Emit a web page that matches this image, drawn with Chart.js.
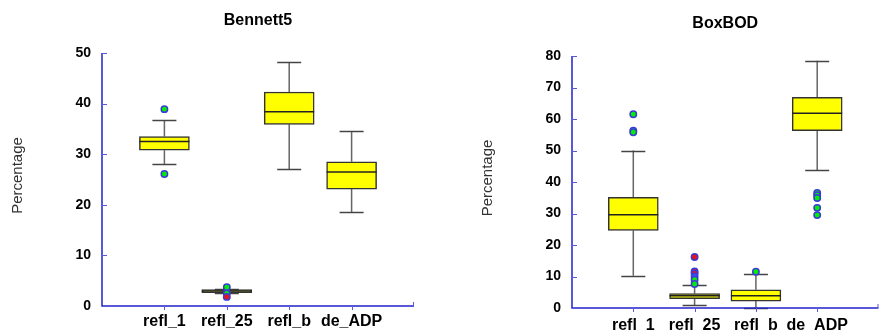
<!DOCTYPE html>
<html>
<head>
<meta charset="utf-8">
<script src="https://cdn.jsdelivr.net/npm/chart.js@4/dist/chart.umd.min.js"></script>
<style>
  html, body { margin: 0; padding: 0; background: #fff; width: 880px; height: 330px; overflow: hidden; position: relative; }
  .panel { position: absolute; top: 0; height: 330px; }
  #p1 { left: 0; width: 440px; }
  #p2 { left: 440px; width: 444px; }
</style>
</head>
<body>
<div class="panel" id="p1"><canvas id="c1" width="440" height="330"></canvas></div>
<div class="panel" id="p2"><canvas id="c2" width="444" height="330"></canvas></div>
<script>
// Method names along the x axis
const categories = ['refl_1', 'refl_25', 'refl_b', 'de_ADP'];

// Bennett5: five-number summaries per method
const benMin = [28.0, 2.6, 27.0, 18.6];
const benQ1  = [30.8, 2.65, 35.9, 23.1];
const benMed = [32.5, 2.95, 38.4, 26.5];
const benQ3  = [33.5, 3.25, 42.3, 28.5];
const benMax = [36.7, 3.3, 48.2, 34.5];
const benOutliers = [[38.9, 26.1], [3.7, 2.5, 1.8], [], []];
const benOutlierKind = [['g', 'g'], ['g', 'g', 'r'], [], []];
const benTicks = [0, 10, 20, 30, 40, 50];

// BoxBOD: five-number summaries per method
const boxMin = [10.25, 0.95, 0.0, 43.75];
const boxQ1  = [24.6, 2.95, 2.2, 56.3];
const boxMed = [29.6, 3.9, 3.9, 61.8];
const boxQ3  = [35.1, 4.6, 5.8, 66.9];
const boxMax = [50.0, 7.2, 10.9, 78.5];
const boxOutliers = [[61.5, 56.3, 55.8], [16.2, 11.6, 11.0, 10.0, 9.0, 7.6], [11.5], [36.5, 35.8, 34.9, 31.8, 29.5]];
const boxOutlierKind = [['g', 'g', 'g'], ['r', 'r', 'r', 'b', 'g', 'g'], ['g'], ['g', 'g', 'g', 'g', 'g']];
const boxTicks = [0, 10, 20, 30, 40, 50, 60, 70, 80];

const FONT = '"Liberation Sans", Arial, sans-serif';
const AXIS_BLUE = '#2222cc';
const TICK_BLUE = '#5a5ae0';
const fillFor = { g: '#00ee00', r: '#ee1111', b: '#3355ff' };

// Draws whiskers, medians, axis tick marks and the text around each panel
const boxDecor = {
  id: 'boxDecor',
  beforeDatasetsDraw(chart, args, o) {
    const { ctx } = chart;
    const x = chart.scales.x, y = chart.scales.y;
    ctx.save();
    ctx.lineWidth = 1.5;
    ctx.strokeStyle = '#666';
    o.min.forEach((v, i) => {
      const px = x.getPixelForValue(i + 1);
      ctx.beginPath();
      ctx.moveTo(px, y.getPixelForValue(o.max[i]));
      ctx.lineTo(px, y.getPixelForValue(o.q3[i]));
      ctx.moveTo(px, y.getPixelForValue(o.q1[i]));
      ctx.lineTo(px, y.getPixelForValue(v));
      ctx.stroke();
    });
    ctx.strokeStyle = '#444';
    o.min.forEach((v, i) => {
      const px = x.getPixelForValue(i + 1);
      [v, o.max[i]].forEach(w => {
        const py = Math.round(y.getPixelForValue(w)) + 0.5;
        ctx.beginPath();
        ctx.moveTo(px - 12, py);
        ctx.lineTo(px + 12, py);
        ctx.stroke();
      });
    });
    ctx.restore();
  },
  afterDatasetDraw(chart, args, o) {
    if (args.index !== 0) return;
    const { ctx } = chart;
    const x = chart.scales.x, y = chart.scales.y;
    ctx.save();
    ctx.lineWidth = 1.5;
    ctx.strokeStyle = '#222';
    o.med.forEach((v, i) => {
      const px = x.getPixelForValue(i + 1);
      const py = y.getPixelForValue(v);
      ctx.beginPath();
      ctx.moveTo(px - 25, py);
      ctx.lineTo(px + 25, py);
      ctx.stroke();
    });
    ctx.restore();
  },
  afterDraw(chart, args, o) {
    const { ctx, chartArea: a } = chart;
    const x = chart.scales.x, y = chart.scales.y;
    ctx.save();
    // axis lines
    ctx.strokeStyle = AXIS_BLUE;
    ctx.lineWidth = 1.5;
    ctx.beginPath();
    ctx.moveTo(a.left, a.top);
    ctx.lineTo(a.left, a.bottom);
    ctx.lineTo(a.right, a.bottom);
    ctx.stroke();
    // tick marks
    ctx.strokeStyle = TICK_BLUE;
    ctx.lineWidth = 1;
    ctx.beginPath();
    y.ticks.forEach(t => {
      const py = Math.round(y.getPixelForValue(t.value)) + 0.5;
      ctx.moveTo(a.left, py);
      ctx.lineTo(a.left + 5, py);
    });
    categories.forEach((c, i) => {
      const px = Math.round(x.getPixelForValue(i + 1)) + 0.5;
      ctx.moveTo(px, a.bottom);
      ctx.lineTo(px, a.bottom + 4);
    });
    ctx.moveTo(a.right - 0.5, a.bottom);
    ctx.lineTo(a.right - 0.5, a.bottom - 4);
    ctx.stroke();
    // panel title
    ctx.fillStyle = '#000';
    ctx.font = 'bold 16px ' + FONT;
    ctx.textAlign = 'center';
    ctx.textBaseline = 'middle';
    ctx.fillText(o.title, (a.left + a.right) / 2, a.top - 32);
    // value axis title
    ctx.font = '15px ' + FONT;
    ctx.fillStyle = '#333';
    ctx.translate(a.left - 84, (a.top + a.bottom) / 2 - 4);
    ctx.rotate(-Math.PI / 2);
    ctx.fillText('Percentage', 0, 0);
    ctx.restore();
  }
};

function makeChart(id, title, mins, q1, med, q3, maxs, outs, kinds, ticks, layout) {
  const labels = [''].concat(categories, ['']);
  const boxes = [null].concat(categories.map((c, i) => [q1[i], q3[i]]), [null]);
  const pts = [], ptFill = [];
  outs.forEach((list, i) => list.forEach((v, k) => {
    pts.push({ x: categories[i], y: v });
    ptFill.push(fillFor[kinds[i][k]]);
  }));
  return new Chart(document.getElementById(id), {
    type: 'bar',
    data: {
      labels: labels,
      datasets: [
        {
          type: 'bar',
          data: boxes,
          backgroundColor: '#ffff00',
          borderColor: '#333',
          borderWidth: 1.5,
          borderSkipped: false,
          barThickness: 50,
          order: 2
        },
        {
          type: 'line',
          data: pts,
          showLine: false,
          pointStyle: 'circle',
          pointRadius: 3.2,
          pointBorderWidth: 1.5,
          pointBorderColor: '#3a3ad8',
          pointBackgroundColor: ptFill,
          order: 1
        }
      ]
    },
    options: {
      responsive: false,
      devicePixelRatio: 1,
      animation: false,
      events: [],
      layout: { padding: { left: 0, top: layout.top, right: layout.right, bottom: 0 } },
      plugins: {
        legend: { display: false },
        tooltip: { enabled: false },
        title: { display: false },
        boxDecor: { title: title, min: mins, q1: q1, med: med, q3: q3, max: maxs }
      },
      scales: {
        x: {
          type: 'category',
          offset: false,
          grid: { display: false },
          border: { display: false },
          ticks: {
            autoSkip: false,
            maxRotation: 0,
            padding: layout.xpad,
            color: '#000',
            font: { family: FONT, size: 16, weight: 'bold' }
          },
          afterFit(s) { s.height = layout.xh; }
        },
        y: {
          min: ticks[0],
          max: ticks[ticks.length - 1],
          grid: { display: false },
          border: { display: false },
          afterBuildTicks(s) { s.ticks = ticks.map(v => ({ value: v })); },
          ticks: {
            padding: 3,
            color: '#000',
            font: { family: FONT, size: 14, weight: 'bold' }
          },
          afterFit(s) { s.width = layout.yw; }
        }
      }
    },
    plugins: [boxDecor]
  });
}

makeChart('c1', 'Bennett5', benMin, benQ1, benMed, benQ3, benMax, benOutliers, benOutlierKind, benTicks,
  { top: 53, right: 26, xh: 24, yw: 102, xpad: -2 });
makeChart('c2', 'BoxBOD', boxMin, boxQ1, boxMed, boxQ3, boxMax, boxOutliers, boxOutlierKind, boxTicks,
  { top: 56, right: 0, xh: 22, yw: 132, xpad: 0 });
</script>
</body>
</html>
